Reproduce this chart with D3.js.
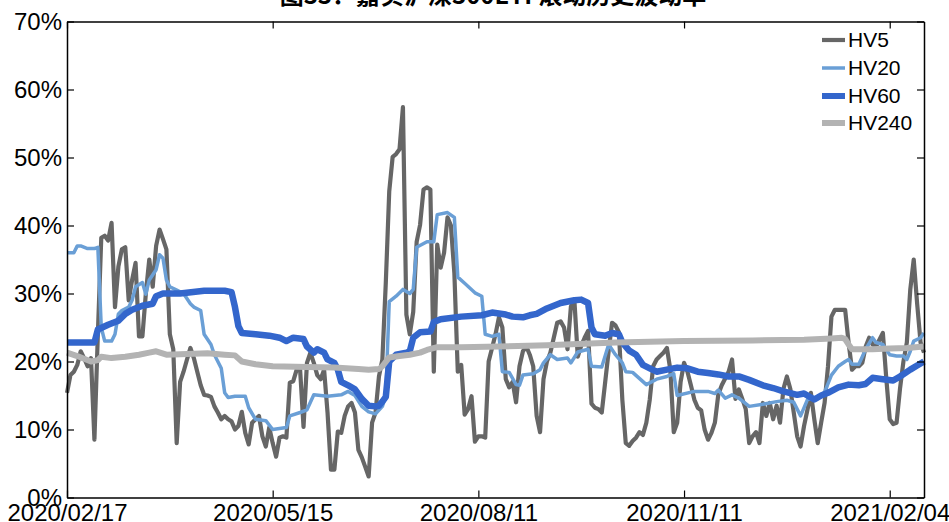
<!DOCTYPE html>
<html><head><meta charset="utf-8">
<script src="https://cdn.jsdelivr.net/npm/d3@7"></script>
<style>
html,body{margin:0;padding:0;background:#fff;}
svg{display:block;}
text{font-family:"Liberation Sans",Arial,sans-serif;}
</style></head>
<body>
<svg id="c" width="949" height="522"></svg>
<script>
// ---- data (trading-day index, volatility %) ----
const title = "图33：嘉实沪深300ETF滚动历史波动率";
const tickDays = [0, 60, 120, 180, 240];
const tickLabels = ["2020/02/17", "2020/05/15", "2020/08/11", "2020/11/11", "2021/02/04"];
const yTicks = [0, 10, 20, 30, 40, 50, 60, 70];
const lastDay = 250;
const seriesNames = ["HV5", "HV20", "HV60", "HV240"];

const hv5 = [[0,15.4],[1,18.0],[2,18.5],[3,19.5],[4,21.5],[5,20.5],[6,19.3],[7,20.5],[8,8.5],[9,24],[10,38.2],[11,38.5],[12,37.8],[13,40.4],[14,28.0],[15,34.0],[16,36.5],[17,36.8],[18,29],[19,32],[20,34.5],[21,23.7],[22,23.7],[23,30],[24,35],[25,31],[26,37],[27,39.4],[28,38],[29,36.5],[30,24],[31,21.8],[32,8.0],[33,17],[34,18.5],[35,20.3],[36,22],[37,20.5],[38,18.5],[39,16.5],[40,15.1],[41,15.0],[42,14.8],[43,13.4],[44,12.5],[45,11.5],[46,12.0],[47,11.5],[48,11.2],[49,10.0],[50,10.5],[51,12.6],[52,9.5],[53,7.8],[54,11.0],[55,11.5],[56,12.0],[57,9.0],[58,7.5],[59,10.3],[60,8.0],[61,6.0],[62,8.8],[63,9.0],[64,8.8],[65,16.9],[66,17.1],[67,18.8],[68,18.8],[69,10.4],[70,19.8],[71,21.3],[72,19.8],[73,18.0],[74,17.4],[75,18.8],[76,12.5],[77,4.1],[78,4.1],[79,9.7],[80,9.5],[81,12],[82,13.4],[83,13.9],[84,12.5],[85,7.0],[86,5.9],[87,4.5],[88,3.1],[89,11.0],[90,12.5],[91,17.8],[92,20.3],[93,31.6],[94,45],[95,50.1],[96,50.5],[97,51.2],[98,57.4],[99,26.9],[100,24.0],[101,27.3],[102,37.6],[103,40.1],[104,45.3],[105,45.6],[106,45.3],[107,18.5],[108,37.2],[109,33.8],[110,36],[111,41.2],[112,40],[113,33],[114,18.5],[115,19.5],[116,12.2],[117,13],[118,14.9],[119,8.2],[120,9],[121,9],[122,8.8],[123,20],[124,22],[125,24],[126,26.5],[127,25],[128,17.4],[129,16.2],[130,17],[131,14],[132,19.3],[133,21.5],[134,22.2],[135,21],[136,19.3],[137,12],[138,9.6],[139,17.4],[140,20],[141,21.3],[142,23.5],[143,25.7],[144,25.9],[145,25],[146,21.8],[147,28.1],[148,29.1],[149,20.7],[150,22.3],[151,23.5],[152,24.5],[153,13.8],[154,13.2],[155,13.0],[156,12.5],[157,17],[158,21.5],[159,25.7],[160,25.3],[161,24.3],[162,14.4],[163,8.0],[164,7.6],[165,8.3],[166,8.8],[167,9.6],[168,9.2],[169,11],[170,14.4],[171,19.3],[172,20.3],[173,20.8],[174,21.3],[175,22.0],[176,18.8],[177,9.6],[178,11],[179,17],[180,19.8],[181,18.5],[182,16.5],[183,14.4],[184,13.2],[185,12.8],[186,10],[187,8.5],[188,9.5],[189,11],[190,15.2],[191,16.5],[192,17.5],[193,18.5],[194,20.3],[195,14.5],[196,15.9],[197,14.5],[198,13],[199,8.0],[200,9.0],[201,9.6],[202,8.0],[203,13.9],[204,12],[205,13.9],[206,11.5],[207,13.5],[208,11],[209,16],[210,17.8],[211,16],[212,12.5],[213,9.0],[214,7.5],[215,10.5],[216,12.9],[217,15.4],[218,11.5],[219,8.0],[220,11],[221,13.9],[222,19.3],[223,26.6],[224,27.6],[225,27.6],[226,27.6],[227,27.6],[228,22.8],[229,18.8],[230,19.3],[231,19.3],[232,19.8],[233,22.2],[234,23.5],[235,22.5],[236,22.2],[237,23.2],[238,24.2],[239,17.5],[240,11.5],[241,10.8],[242,11],[243,16],[244,20],[245,22.8],[246,30.6],[247,35],[248,28.5],[249,22.8],[250,21.3]];

const hv20 = [[0,36],[2,36],[3,37],[4,37],[6,36.6],[8,36.6],[9,36.8],[10,25],[11,23],[13,23],[14,24],[15,27],[16,27.5],[18,28],[19,29],[20,31],[22,31.6],[23,29.9],[24,32],[26,33.5],[27,35.7],[28,35.2],[29,32],[30,31],[32,30.5],[34,30],[36,28.5],[37,28],[39,27.5],[40,24],[42,22.5],[43,21],[45,19],[46,15.4],[47,14.7],[49,14.9],[52,14.9],[53,13.2],[55,11.5],[58,11.3],[60,10],[64,10.3],[65,12],[68,12.5],[70,12.9],[71,14],[72,15.1],[76,14.9],[80,15.1],[82,15.6],[84,15],[86,13.4],[88,12.6],[90,12.3],[92,13.4],[93,15],[94,28.8],[96,29.6],[98,30.6],[100,30],[101,30.6],[102,36.8],[105,37.6],[107,37.6],[108,41.6],[111,41.9],[113,41.2],[114,32.4],[116,31.5],[119,30.1],[121,29.6],[122,24],[124,23.7],[126,24],[127,18.5],[129,18.4],[131,16.6],[132,16.5],[133,18],[136,18.2],[138,18.8],[139,19.8],[141,21],[143,20.3],[146,20.5],[147,19.8],[149,21.4],[152,21.8],[153,19.3],[156,19.2],[158,22.5],[160,21],[162,19.8],[163,18.5],[165,18.4],[169,16.6],[172,17.4],[175,17.8],[177,18.2],[178,15],[183,15.6],[187,15.6],[189,15.3],[190,15.8],[192,14.6],[194,15.1],[196,14.6],[199,13.4],[203,13.7],[207,14.1],[210,14.3],[212,14],[214,12],[216,14.4],[219,14.7],[221,15.5],[223,18],[225,19.3],[227,20],[228,20.3],[229,19.6],[231,19.6],[233,21.8],[235,23.5],[236,22.8],[238,22.5],[240,21],[242,20.8],[244,20.8],[245,20.3],[246,21.5],[247,23],[249,23.5],[250,24.2]];

const hv60 = [[0,22.8],[4,22.8],[8,22.8],[9,24.7],[12,25.4],[15,26],[17,27],[19,27.6],[22,28.2],[25,28.5],[26,29.6],[28,30],[33,30],[40,30.4],[46,30.4],[48,30.2],[49,28],[50,25.2],[51,24.2],[55,24],[59,23.8],[62,23.5],[64,23],[66,23.5],[69,23.3],[70,22.2],[72,21.3],[73,21.8],[75,21.3],[76,20.3],[78,19.8],[79,18.8],[80,17],[82,16.5],[84,15.9],[86,14.5],[88,13.5],[90,13.4],[91,13.5],[92,14.1],[93,14.8],[94,20],[96,21],[99,21.3],[100,21.5],[101,23.5],[103,24.3],[106,24.4],[107,25.8],[109,26.2],[115,26.6],[121,26.8],[124,27.2],[128,26.9],[130,26.6],[133,26.5],[135,26.8],[137,27],[140,27.8],[144,28.6],[148,29],[150,29.1],[152,28.6],[153,25],[154,24],[157,23.8],[159,24.2],[161,24],[162,22.8],[164,21.6],[166,21],[168,19.5],[170,19],[172,18.5],[175,18.8],[178,19.1],[181,19],[184,18.5],[187,18.3],[190,18.1],[193,17.8],[196,17.8],[199,17.3],[203,16.5],[206,16.1],[209,15.6],[213,15.1],[215,15.3],[218,14.4],[220,15],[222,15.4],[225,16.2],[228,16.6],[231,16.5],[233,16.7],[235,17.6],[238,17.4],[241,17.2],[243,17.8],[246,18.8],[248,19.4],[250,20]];

const hv240 = [[0,21.3],[3,20.8],[7,20],[9,20.2],[10,20.7],[13,20.5],[17,20.7],[21,21],[24,21.3],[26,21.5],[29,21],[35,21.1],[41,21.2],[46,21],[49,20.9],[51,20],[55,19.6],[60,19.3],[70,19.2],[78,19.1],[85,18.9],[88,18.8],[91,18.9],[92,19.3],[94,20.6],[97,20.8],[100,21],[103,21.3],[105,21.7],[108,22.1],[115,22.1],[126,22.2],[140,22.4],[160,22.8],[180,23],[200,23.1],[215,23.2],[223,23.4],[226,23.5],[227,23.3],[228,22.5],[229,21.8],[235,21.8],[240,21.9],[245,22],[250,22.2]];

const seriesData = [hv5, hv20, hv60, hv240];
const seriesColors = ["#666666", "#6a9fd6", "#3366cc", "#b3b3b3"];
const seriesWidths = [4.2, 3.5, 6.5, 6];

// ---- drawing ----
const svg = d3.select("#c");
const L = 67, R = 924, T = 21.5, B = 497.5;
const x = d3.scaleLinear().domain([0, lastDay]).range([L, R]);
const y = d3.scaleLinear().domain([0, 70]).range([B, T]);

// title (clipped at top as in reference)
svg.append("text").attr("x", 493).attr("y", 4).attr("text-anchor", "middle")
  .style("font-family", '"Noto Sans CJK SC", sans-serif').style("font-weight", "bold")
  .style("font-size", "24px").text(title);

// lines
const line = d3.line().x(d => x(d[0])).y(d => y(d[1]));
seriesData.forEach((s, k) => {
  svg.append("path").datum(s).attr("d", line).attr("fill", "none")
    .attr("stroke", seriesColors[k]).attr("stroke-width", seriesWidths[k])
    .attr("stroke-linejoin", "round").attr("stroke-linecap", "butt");
});

// axes (all ticks inward)
const fmtPct = d => d + "%";
const gL = svg.append("g").attr("transform", `translate(${L},0)`)
  .call(d3.axisLeft(y).tickValues(yTicks).tickFormat(fmtPct).tickSizeInner(-7).tickSizeOuter(0).tickPadding(5));
const gR = svg.append("g").attr("transform", `translate(${R},0)`)
  .call(d3.axisRight(y).tickValues(yTicks).tickFormat("").tickSizeInner(-7).tickSizeOuter(0));
const gB = svg.append("g").attr("transform", `translate(0,${B})`)
  .call(d3.axisBottom(x).tickValues(tickDays).tickFormat((d, i) => tickLabels[i]).tickSizeInner(-7).tickSizeOuter(0).tickPadding(6));
const gT = svg.append("g").attr("transform", `translate(0,${T})`)
  .call(d3.axisTop(x).tickValues(tickDays).tickFormat("").tickSizeInner(-7).tickSizeOuter(0));
[gL, gR, gB, gT].forEach(g => {
  g.selectAll(".domain").attr("stroke", "#000").attr("stroke-width", 1.5);
  g.selectAll(".tick line").attr("stroke", "#000").attr("stroke-width", 1.2);
  g.selectAll("text").style("font-family", '"Liberation Sans", Arial, sans-serif')
    .style("font-size", "24px").attr("fill", "#000");
});

// legend
const lg = svg.append("g");
const legY = [40, 68, 96, 123];
seriesNames.forEach((n, k) => {
  lg.append("line").attr("x1", 822).attr("x2", 845).attr("y1", legY[k]).attr("y2", legY[k])
    .attr("stroke", seriesColors[k]).attr("stroke-width", Math.min(seriesWidths[k], 6));
  lg.append("text").attr("x", 848).attr("y", legY[k]).attr("dy", "0.35em")
    .style("font-size", "21px").attr("fill", "#000").text(n);
});
</script>
</body></html>
